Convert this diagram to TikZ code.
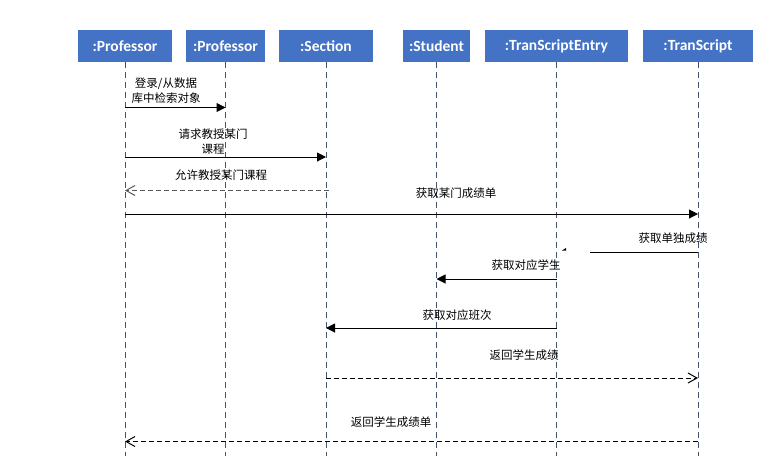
\documentclass[tikz,border=0pt]{standalone}
\usepackage{fontspec}
\usepackage{tikz}
\usetikzlibrary{positioning}
\usetikzlibrary{calc}
\usetikzlibrary{arrows.meta}
\newfontfamily\hdfont{Carlito}[BoldFont={Carlito Bold}]
\newfontfamily\cjk{Noto Sans CJK SC}
\definecolor{hdblue}{RGB}{68,114,196}
\definecolor{lifegray}{RGB}{68,84,106}
\tikzset{
  head/.style={fill=hdblue,text=white,font=\hdfont\bfseries\fontsize{15.5}{17}\selectfont,minimum height=32pt,inner sep=0pt},
  life/.style={lifegray,line width=0.8pt,dash pattern=on 6pt off 4pt},
  call/.style={line width=1pt,-{Triangle[length=9pt,width=9pt]}},
  reply/.style={line width=1pt,dash pattern=on 5pt off 3pt,-{Straight Barb[length=9pt,width=10pt]}},
  lbl/.style={font=\cjk\fontsize{11.5}{15}\selectfont,align=center,inner sep=0pt}
}
\begin{document}
\begin{tikzpicture}[x=1pt,y=-1pt]
\useasboundingbox (0,0) rectangle (772,456);
\node (p1) [head, minimum width=94pt] at (125,46) {:Professor};
\node (p2) [head, minimum width=79pt] at (225.5,46) {:Professor};
\node (sec) [head, minimum width=94pt] at (326,46) {:Section};
\node (stu) [head, minimum width=67pt] at (436.5,46) {:Student};
\node (te) [head, minimum width=143pt] at (556.5,46) {:TranScriptEntry};
\node (ts) [head, minimum width=110pt] at (698,46) {:TranScript};

\foreach \n in {p1,p2,sec,stu,te,ts}
  \draw[life] (\n.south) -- (\n.south |- 0,456);

\coordinate (y1) at (0,107.5);
\coordinate (y2) at (0,157);
\coordinate (y3) at (0,190.5);
\coordinate (y4) at (0,214);
\coordinate (y5) at (0,252);
\coordinate (y6) at (0,279);
\coordinate (y7) at (0,328);
\coordinate (y8) at (0,378);
\coordinate (y9) at (0,441.5);
\coordinate (cut) at (590,252);

\node (m1) [lbl] at (166,91) {登录/从数据\\库中检索对象};
\node (m2) [lbl] at (213,142) {请求教授某门\\课程};
\node (m3) [lbl] at (221,175) {允许教授某门课程};
\node (m4) [lbl] at (456,193) {获取某门成绩单};
\node (m5) [lbl] at (673,238) {获取单独成绩};
\node (m6) [lbl] at (526,265) {获取对应学生};
\node (m7) [lbl] at (457,315) {获取对应班次};
\node (m8) [lbl] at (524,355) {返回学生成绩};
\node (m9) [lbl] at (391,422) {返回学生成绩单};

\draw[call] (p1 |- y1) -- (p2 |- y1);
\draw[call] (p1 |- y2) -- (sec |- y2);
\draw[reply,black!65] ($(sec |- y3)+(3,0)$) -- (p1 |- y3);
\draw[call] (p1 |- y4) -- (ts |- y4);
\draw[line width=1pt] (ts |- y5) -- (cut);
\fill (562,250.5) -- (566,248) -- (566,250.5) -- cycle;
\draw[call] (te |- y6) -- (stu |- y6);
\draw[call] (te |- y7) -- (sec |- y7);
\draw[reply] (sec |- y8) -- (ts |- y8);
\draw[reply] (ts |- y9) -- (p1 |- y9);
\end{tikzpicture}
\end{document}
